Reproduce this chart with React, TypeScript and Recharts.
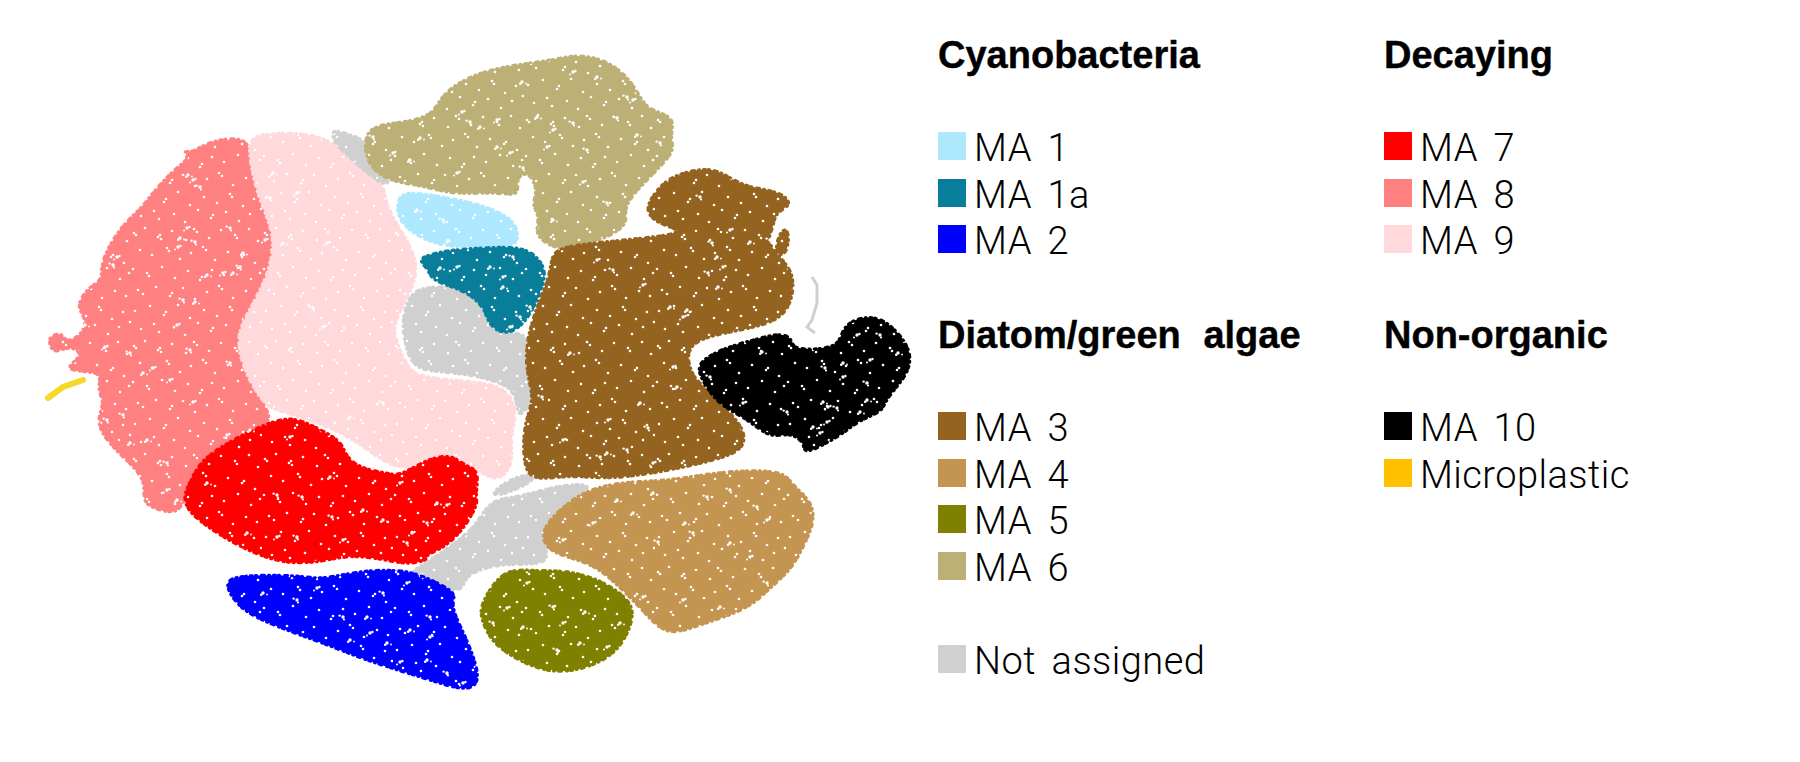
import { ScatterChart, Scatter, XAxis, YAxis } from "recharts";

type Pair = [number, number];

const ma8Outline: Pair[] = [[182,150],[193,153],[210,140],[250,136],[250,163],[257,193],[267,217],[275,243],[267,277],[253,303],[240,327],[237,347],[247,377],[263,403],[274,422],[250,432],[227,447],[203,462],[192,483],[185,500],[177,514],[157,510],[141,502],[147,480],[123,457],[105,439],[96,420],[105,403],[97,390],[102,373],[85,372],[62,369],[85,355],[70,345],[53,355],[48,340],[52,335],[63,333],[65,342],[80,337],[88,320],[75,307],[88,287],[103,280],[100,267],[110,243],[127,220],[140,210],[157,187],[177,167],[190,158]];
const ma9Outline: Pair[] = [[248,137],[270,133],[307,133],[327,140],[347,151],[367,168],[385,187],[385,200],[394,220],[412,247],[419,273],[405,303],[394,323],[395,340],[409,370],[420,376],[450,380],[493,383],[512,395],[517,417],[510,437],[514,463],[500,482],[483,474],[450,455],[423,464],[400,470],[377,457],[347,435],[310,420],[272,409],[263,403],[247,377],[237,347],[240,327],[253,303],[267,277],[275,243],[267,217],[257,193],[250,163]];
const ma6Outline: Pair[] = [[363,126],[400,123],[433,116],[441,95],[463,80],[487,70],[527,63],[553,60],[577,54],[607,60],[629,78],[639,95],[647,108],[662,113],[675,120],[670,137],[675,150],[662,165],[645,182],[622,207],[630,224],[605,239],[580,245],[560,250],[543,242],[535,232],[540,217],[531,203],[538,193],[530,171],[515,177],[521,197],[497,192],[453,195],[420,185],[390,182],[365,165]];
const ma1Outline: Pair[] = [[401,190],[437,196],[477,203],[509,216],[519,230],[517,249],[480,247],[453,247],[427,242],[401,225],[396,207]];
const ma1aOutline: Pair[] = [[415,258],[447,250],[480,248],[522,246],[539,258],[547,273],[539,295],[532,312],[519,329],[503,335],[488,324],[485,309],[471,295],[453,287],[431,280],[428,268]];
const ma2Outline: Pair[] = [[225,582],[237,575],[300,575],[320,580],[363,570],[397,570],[417,573],[460,593],[449,603],[464,633],[475,660],[480,682],[467,692],[430,680],[397,670],[363,659],[320,642],[283,629],[247,614],[231,597]];
const ma3Outline: Pair[] = [[643,210],[658,188],[673,175],[710,166],[730,178],[750,188],[780,191],[794,205],[775,212],[774,227],[765,243],[789,265],[795,283],[789,312],[767,325],[730,332],[685,342],[690,373],[702,385],[722,405],[745,428],[745,449],[720,459],[673,470],[610,480],[573,475],[540,480],[523,474],[523,423],[535,400],[526,373],[526,340],[538,303],[551,273],[551,251],[573,245],[613,241],[673,235],[681,230],[658,224]];
const ma3Fragment: Pair[] = [[781,228],[790,230],[787,257],[773,254]];
const ma4Outline: Pair[] = [[541,530],[558,511],[587,488],[633,481],[663,481],[700,475],[740,470],[785,471],[792,485],[812,501],[815,523],[802,549],[792,569],[769,589],[749,609],[700,625],[672,635],[655,625],[638,605],[611,579],[593,565],[567,557],[545,549]];
const ma5Outline: Pair[] = [[481,603],[503,568],[533,571],[567,570],[602,580],[632,601],[634,620],[619,652],[587,669],[550,674],[515,659],[491,642],[480,617]];
const ma7Outline: Pair[] = [[181,500],[191,480],[201,460],[230,441],[263,425],[290,416],[312,425],[342,441],[344,453],[358,468],[387,473],[400,476],[423,461],[450,453],[465,466],[480,470],[475,497],[479,503],[462,532],[442,549],[425,555],[429,560],[407,565],[383,559],[347,555],[323,562],[287,564],[258,555],[231,542],[195,519]];
const ma10Outline: Pair[] = [[696,363],[723,348],[760,338],[780,333],[792,338],[792,348],[813,350],[837,346],[841,335],[848,321],[873,315],[892,325],[912,350],[909,372],[895,389],[885,402],[882,412],[860,420],[845,432],[829,442],[803,455],[805,443],[790,432],[770,439],[748,419],[718,405],[701,379]];
const grayCentre: Pair[] = [[420,288],[450,285],[473,295],[487,311],[500,334],[520,332],[530,340],[530,385],[539,395],[524,412],[518,417],[515,390],[497,382],[473,375],[440,372],[415,369],[406,350],[401,320],[410,295]];
const grayLower: Pair[] = [[595,483],[557,485],[517,498],[491,498],[475,527],[458,540],[441,553],[418,567],[408,575],[440,589],[464,592],[464,575],[497,564],[527,565],[549,562],[545,547],[545,527],[562,510],[579,497]];
const grayStrip: Pair[] = [[521,472],[542,478],[500,497],[488,494]];
const grayTop: Pair[] = [[331,128],[350,135],[369,141],[369,165],[392,180],[385,187],[363,170],[347,155],[333,142]];
const grayStrand: Pair[] = [[812,277],[817,285],[817,303],[812,320],[807,327],[815,333]];
const microplasticLine: Pair[] = [[48,398],[63,387],[83,380]];

const ma8Gaps: Pair[] = [[193,180],[188,175],[200,187],[187,228],[180,238],[195,242],[178,247],[233,273],[240,267],[223,273],[243,253],[113,265],[117,257],[195,302],[183,300],[177,325],[85,325],[230,228],[265,240],[207,275],[130,353],[153,368],[143,373],[230,363],[193,402],[130,443],[167,463],[167,490],[177,500],[107,420],[227,435],[250,430],[190,350],[105,347],[147,440],[123,415],[170,380]];
const ma9Gaps: Pair[] = [[297,193],[273,173],[270,198],[327,243],[283,243],[313,308],[323,327],[350,417],[383,403]];
const ma6Gaps: Pair[] = [[462,112],[480,127],[470,122],[510,153],[497,147],[523,168],[573,72],[597,77],[627,97],[633,100],[553,220],[660,143],[457,173],[410,160],[373,137],[393,153],[537,117],[587,150],[583,182],[637,135],[607,203],[547,147],[522,82],[617,118],[497,120],[420,138],[573,123],[553,130]];
const ma3Gaps: Pair[] = [[643,285],[718,287],[708,273],[730,230],[750,242],[770,240],[683,317],[687,310],[613,270],[597,260],[717,257],[712,243],[723,267],[670,307],[542,397],[608,420],[640,403],[648,428],[563,440],[607,453],[627,450],[673,367],[677,387],[600,457],[653,463],[570,353],[700,197]];
const ma4Gaps: Pair[] = [[593,523],[685,523],[658,542],[563,540],[633,513],[730,490],[767,520],[730,543],[693,533],[643,597],[720,607],[767,583],[683,600],[617,500],[757,507],[750,557],[653,493],[707,497]];
const ma5Gaps: Pair[] = [[507,608],[585,612],[557,650],[607,647],[523,627],[553,607],[563,623],[620,623],[493,623],[527,583],[580,643]];
const ma2Gaps: Pair[] = [[370,633],[350,640],[343,617],[400,662],[427,660],[430,617],[430,637],[387,643],[297,600],[317,588],[263,593],[383,593],[407,583],[367,617],[447,673],[463,683],[410,630]];
const ma7Gaps: Pair[] = [[290,437],[330,477],[332,517],[412,533],[437,503],[427,523],[400,483],[247,533],[302,497],[343,540],[363,510],[407,543],[277,537],[207,483],[277,495],[447,505],[383,520],[297,537]];
const ma10Gaps: Pair[] = [[828,407],[823,402],[837,408],[843,377],[843,363],[867,383],[870,360],[898,353],[880,335],[857,335],[860,412],[825,368],[827,422],[813,427],[787,412],[743,403],[762,352],[710,377],[820,433],[867,400]];
const ma1Gaps: Pair[] = [[447,242],[417,210],[443,220]];
const ma1aGaps: Pair[] = [[503,277],[503,287],[513,257],[457,267],[440,268],[520,317],[510,327],[490,267],[530,307]];

// white flecks of one repeating tile inside the clusters
const GRAIN: Pair[] = [[3,7],[5,9],[14,2],[27,11],[29,9],[30,13],[41,5],[55,14],[63,3],[66,6],[78,12],[90,4],[104,9],[106,12],[118,3],[127,15],[9,24],[21,29],[36,22],[38,25],[49,33],[60,27],[72,21],[75,24],[84,34],[97,26],[111,31],[113,29],[124,37],[2,43],[16,47],[18,50],[31,41],[44,52],[57,45],[69,54],[71,51],[81,44],[93,49],[107,42],[120,53],[129,47],[7,64],[12,68],[25,61],[39,70],[41,67],[52,62],[64,73],[76,66],[88,60],[91,63],[102,72],[115,65],[126,70],[4,85],[19,80],[33,89],[35,86],[47,79],[59,92],[73,84],[86,90],[99,81],[101,84],[112,93],[123,86],[10,103],[23,98],[28,106],[43,101],[54,109],[67,97],[80,105],[82,102],[95,99],[108,108],[119,101],[130,96]];

const C = {
  ma1: "#ADE8FF", ma1a: "#087E9A", ma2: "#0000FF", ma3: "#956320", ma4: "#C49550", ma5: "#808000",
  ma6: "#BDB076", ma7: "#FF0000", ma8: "#FF8080", ma9: "#FFD9DB", ma10: "#000000", micro: "#FFC000", na: "#D0D0D0",
};

// painted in this order
const clusters: { id: string; color: string; outline: Pair[] }[] = [
  { id: "ma8", color: C.ma8, outline: ma8Outline },
  { id: "ma9", color: C.ma9, outline: ma9Outline },
  { id: "grayTop", color: C.na, outline: grayTop },
  { id: "grayCentre", color: C.na, outline: grayCentre },
  { id: "grayLower", color: C.na, outline: grayLower },
  { id: "grayStrip", color: C.na, outline: grayStrip },
  { id: "ma6", color: C.ma6, outline: ma6Outline },
  { id: "ma1", color: C.ma1, outline: ma1Outline },
  { id: "ma1a", color: C.ma1a, outline: ma1aOutline },
  { id: "ma3", color: C.ma3, outline: ma3Outline },
  { id: "ma3b", color: C.ma3, outline: ma3Fragment },
  { id: "ma4", color: C.ma4, outline: ma4Outline },
  { id: "ma5", color: C.ma5, outline: ma5Outline },
  { id: "ma7", color: C.ma7, outline: ma7Outline },
  { id: "ma2", color: C.ma2, outline: ma2Outline },
  { id: "ma10", color: C.ma10, outline: ma10Outline },
];

const gapLists: Pair[][] = [ma8Gaps, ma9Gaps, ma6Gaps, ma3Gaps, ma4Gaps, ma5Gaps, ma2Gaps, ma7Gaps, ma10Gaps, ma1Gaps, ma1aGaps];

const legendLeft = [
  { title: "Cyanobacteria", top: 30, items: [["MA 1", C.ma1], ["MA 1a", C.ma1a], ["MA 2", C.ma2]] },
  { title: "Diatom/green algae", top: 310, items: [["MA 3", C.ma3], ["MA 4", C.ma4], ["MA 5", C.ma5], ["MA 6", C.ma6]] },
];
const legendRight = [
  { title: "Decaying", top: 30, items: [["MA 7", C.ma7], ["MA 8", C.ma8], ["MA 9", C.ma9]] },
  { title: "Non-organic", top: 310, items: [["MA 10", C.ma10], ["Microplastic", C.micro]] },
];

const toPoints = (list: Pair[]) => list.map(([x, y]) => ({ x, y }));
const noDot = () => <g />;

// three hole shapes so the gaps do not all look alike
function GapBlob(p: any) {
  const { cx, cy, index } = p;
  const kind = index % 3;
  return (
    <g fill="#fff">
      <circle cx={cx} cy={cy} r={1.7} />
      {kind === 0 && <circle cx={cx + 2.4} cy={cy - 1} r={1.2} />}
      {kind === 0 && <circle cx={cx - 3} cy={cy + 2.6} r={1} />}
      {kind === 1 && <circle cx={cx - 1.8} cy={cy + 1.8} r={1.3} />}
      {kind === 1 && <circle cx={cx + 4} cy={cy + 1.5} r={0.9} />}
      {kind === 2 && <circle cx={cx + 1} cy={cy + 2.5} r={1.1} />}
      {kind === 2 && <circle cx={cx - 3.4} cy={cy - 1.4} r={1.2} />}
    </g>
  );
}

function LegendGroup({ left, title, top, items }: { left: number; title: string; top: number; items: string[][] }) {
  return (
    <>
      <div style={{ position: "absolute", left, top: top + 2, fontFamily: "Liberation Sans", fontWeight: 700, fontSize: 38, lineHeight: "46px", wordSpacing: 12, WebkitTextStroke: "0.4px #000", color: "#000", whiteSpace: "nowrap" }}>
        {title}
      </div>
      {items.map(([label, color], i) => (
        <div key={label} style={{ position: "absolute", left, top: top + 102 + i * 46.7, height: 28, display: "flex", alignItems: "center" }}>
          <div style={{ width: 28, height: 28, background: color, marginRight: 8 }} />
          <span style={{ fontFamily: "Roboto", fontWeight: 300, fontSize: 38, lineHeight: "28px", letterSpacing: 0.45, wordSpacing: 6, position: "relative", top: 2, color: "#000", whiteSpace: "nowrap" }}>{label}</span>
        </div>
      ))}
    </>
  );
}

export default function App() {
  return (
    <div style={{ position: "absolute", left: 0, top: 0, width: 1800, height: 762, background: "#fff", overflow: "hidden" }}>
      <div style={{ position: "absolute", left: 0, top: 0 }}>
        <ScatterChart width={920} height={762} margin={{ top: 0, right: 0, bottom: 0, left: 0 }}>
          <defs>
            {clusters.map(c => (
              <pattern key={c.id} id={`grain-${c.id}`} patternUnits="userSpaceOnUse" width={131} height={113}>
                <rect width={131} height={113} fill={c.color} />
                {GRAIN.map(([x, y]) => <circle key={`${x}-${y}`} cx={x} cy={y} r={1.3} fill="#fff" />)}
              </pattern>
            ))}
          </defs>
          <XAxis type="number" dataKey="x" domain={[0, 920]} hide />
          <YAxis type="number" dataKey="y" domain={[0, 762]} reversed hide />
          {clusters.map(c => (
            <Scatter
              key={c.id}
              data={toPoints(c.outline)}
              isAnimationActive={false}
              shape={noDot}
              lineJointType="basisClosed"
              line={{ fill: `url(#grain-${c.id})`, stroke: c.color, strokeWidth: 3, strokeDasharray: "1 4 2 3 1 5 3 4", strokeLinecap: "round" }}
            />
          ))}
          <Scatter data={toPoints(grayStrand)} isAnimationActive={false} shape={noDot} line={{ stroke: C.na, strokeWidth: 3, fill: "none" }} />
          <Scatter data={toPoints(microplasticLine)} isAnimationActive={false} shape={noDot} line={{ stroke: "#F5D92A", strokeWidth: 6, fill: "none", strokeLinecap: "round" }} />
          {gapLists.map((gaps, i) => (
            <Scatter key={i} data={toPoints(gaps)} isAnimationActive={false} shape={GapBlob} />
          ))}
        </ScatterChart>
      </div>
      {legendLeft.map(g => <LegendGroup key={g.title} left={938} {...g} />)}
      {legendRight.map(g => <LegendGroup key={g.title} left={1384} {...g} />)}
      <LegendGroup left={938} title="" top={543} items={[["Not assigned", C.na]]} />
    </div>
  );
}
